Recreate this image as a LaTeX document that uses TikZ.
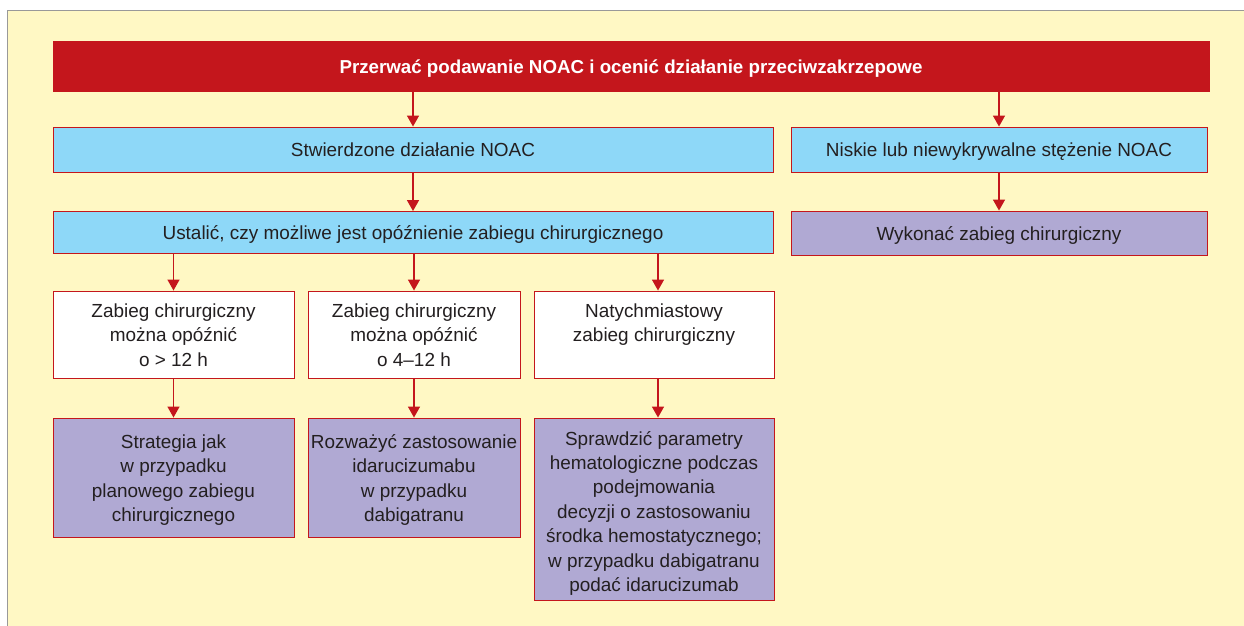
\documentclass[tikz,border=0pt]{standalone}
\usepackage{fontspec}
\setmainfont{Liberation Sans}
\usetikzlibrary{arrows.meta}
\definecolor{nred}{HTML}{C4161C}
\definecolor{nblue}{HTML}{8ED8F8}
\definecolor{npurple}{HTML}{B0A9D3}
\definecolor{nyellow}{HTML}{FFF8C4}
\definecolor{ntext}{HTML}{231F20}
\newcommand\boxlines[2][-2.5bp]{\raisebox{#1}[\height][\depth]{\begin{tabular}{@{}c@{}}#2\end{tabular}}}
\tikzset{
  box/.style={draw=nred, line width=0.9bp, inner sep=0pt, text=ntext,
    font=\fontsize{19}{24.5}\selectfont},
  bluebox/.style={box, fill=nblue},
  purplebox/.style={box, fill=npurple},
  whitebox/.style={box, fill=white},
  topbox/.style={box, fill=nred, text=white, font=\fontsize{18.8}{24.5}\selectfont\bfseries},
  arr/.style={draw=nred, line width=1.5bp, -{Triangle[width=12bp,length=11bp]}, shorten <=0.5bp}
}
\begin{document}
\begin{tikzpicture}[x=1bp,y=-1bp]
\useasboundingbox (0,0) rectangle (1244,626);
\fill[white] (0,0) rectangle (1244,626);
\fill[nyellow] (7,11) rectangle (1244,626);
\draw[gray!80, line width=1bp] (7,626) -- (7,11) -- (1244,11);

\node[topbox, minimum width=1156bp, minimum height=50bp] (top) at (631,66) {\boxlines{Przerwać podawanie NOAC i ocenić działanie przeciwzakrzepowe}};
\node[bluebox, minimum width=720bp, minimum height=45bp] (stw) at (413,149.5) {\boxlines{Stwierdzone działanie NOAC}};
\node[bluebox, minimum width=416bp, minimum height=45bp] (nisk) at (999,149.5) {\boxlines{Niskie lub niewykrywalne stężenie NOAC}};
\node[bluebox, minimum width=720bp, minimum height=42bp] (ust) at (413,232.5) {\boxlines{Ustalić, czy możliwe jest opóźnienie zabiegu chirurgicznego}};
\node[purplebox, minimum width=416bp, minimum height=44bp] (wyk) at (999,233) {\boxlines{Wykonać zabieg chirurgiczny}};

\node[whitebox, minimum width=241bp, minimum height=87bp] (a1) at (173.5,334.5) {\boxlines{Zabieg chirurgiczny\\można opóźnić\\o > 12 h}};
\node[whitebox, minimum width=212bp, minimum height=87bp] (a2) at (414,334.5) {\boxlines{Zabieg chirurgiczny\\można opóźnić\\o 4–12 h}};
\node[whitebox, minimum width=240bp, minimum height=87bp] (a3) at (654,334.5) {\boxlines{Natychmiastowy\\zabieg chirurgiczny\\\phantom{o > 12 h}}};

\node[purplebox, minimum width=241bp, minimum height=119bp] (b1) at (173.5,477.5) {\boxlines{Strategia jak\\w przypadku\\planowego zabiegu\\chirurgicznego}};
\node[purplebox, minimum width=212bp, minimum height=119bp] (b2) at (414,477.5) {\boxlines{Rozważyć zastosowanie\\idarucizumabu\\w przypadku\\dabigatranu}};
\node[purplebox, minimum width=240bp, minimum height=182bp] (b3) at (654,509) {\boxlines[-4.5bp]{Sprawdzić parametry\\hematologiczne podczas\\podejmowania\\decyzji o zastosowaniu\\środka hemostatycznego;\\w przypadku dabigatranu\\podać idarucizumab}};

\draw[arr] (stw.north |- top.south) -- (stw.north);
\draw[arr] (nisk.north |- top.south) -- (nisk.north);
\draw[arr] (stw.south) -- (ust.north);
\draw[arr] (nisk.south) -- (wyk.north);
\draw[arr] (a1.north |- ust.south) -- (a1.north);
\draw[arr] (a2.north |- ust.south) -- (a2.north);
\draw[arr] ([xshift=4bp]a3.north |- ust.south) -- ([xshift=4bp]a3.north);
\draw[arr] (a1.south) -- (b1.north);
\draw[arr] (a2.south) -- (b2.north);
\draw[arr] ([xshift=4bp]a3.south) -- ([xshift=4bp]b3.north);
\end{tikzpicture}
\end{document}
